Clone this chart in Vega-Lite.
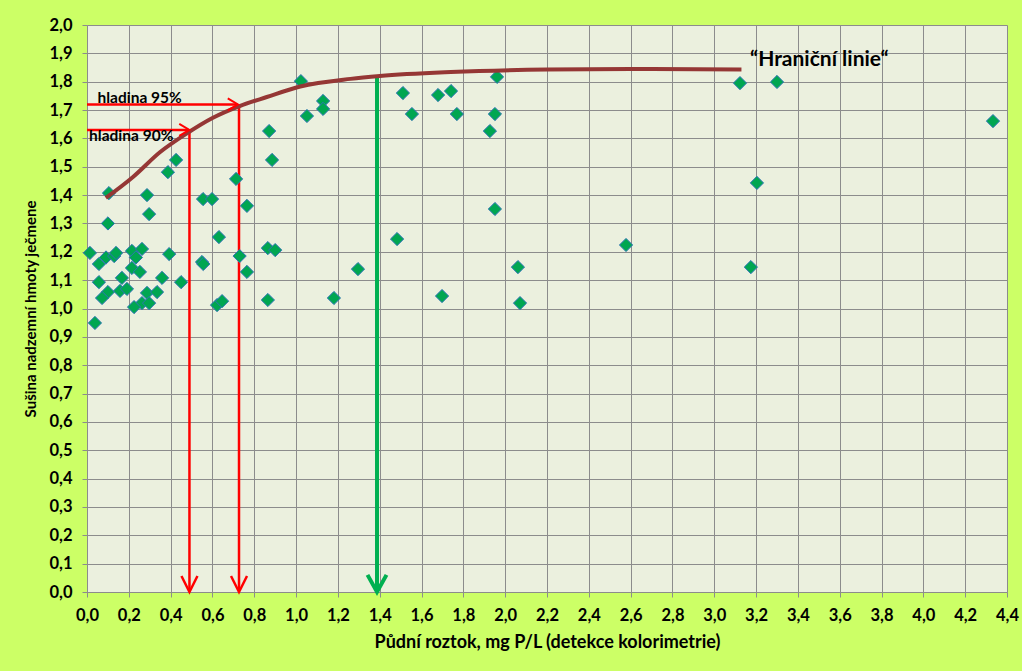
{
  "$schema": "https://vega.github.io/schema/vega-lite/v6.json",
  "width": 920,
  "height": 567,
  "autosize": {"type": "none"},
  "padding": {"left": 87, "top": 25, "right": 15, "bottom": 79},
  "background": "#CCFF66",
  "config": {
    "font": "Lato",
    "locale": {"number": {"decimal": ",", "thousands": " ", "grouping": [3], "currency": ["", " Kč"]}},
    "view": {"fill": "#EBF0DE", "stroke": null},
    "axis": {
      "gridColor": "#8C8C8C", "gridWidth": 1, "gridOpacity": 1,
      "domainColor": "#8C8C8C", "tickColor": "#8C8C8C", "tickSize": 5,
      "labelFont": "Lato", "labelFontWeight": "bold", "labelFontSize": 16.5, "labelColor": "#000000",
      "labelOverlap": false,
      "titleFont": "Lato", "titleFontWeight": "bold", "titleFontSize": 15, "titleColor": "#000000"
    }
  },
  "datasets": {
    "pts": [
      {"x": 0.014, "y": 1.196}, {"x": 0.057, "y": 1.157}, {"x": 0.091, "y": 1.18}, {"x": 0.13, "y": 1.185},
      {"x": 0.139, "y": 1.196}, {"x": 0.215, "y": 1.203}, {"x": 0.263, "y": 1.21}, {"x": 0.234, "y": 1.18},
      {"x": 0.393, "y": 1.192}, {"x": 0.631, "y": 1.252}, {"x": 0.55, "y": 1.164}, {"x": 0.556, "y": 1.157},
      {"x": 0.73, "y": 1.185}, {"x": 0.765, "y": 1.129}, {"x": 0.865, "y": 1.213}, {"x": 0.9, "y": 1.206},
      {"x": 0.057, "y": 1.093}, {"x": 0.167, "y": 1.108}, {"x": 0.215, "y": 1.143}, {"x": 0.253, "y": 1.129},
      {"x": 0.359, "y": 1.108}, {"x": 0.45, "y": 1.093}, {"x": 0.1, "y": 1.058}, {"x": 0.072, "y": 1.037},
      {"x": 0.158, "y": 1.062}, {"x": 0.191, "y": 1.069}, {"x": 0.287, "y": 1.055}, {"x": 0.335, "y": 1.058},
      {"x": 0.263, "y": 1.019}, {"x": 0.297, "y": 1.019}, {"x": 0.225, "y": 1.005}, {"x": 0.038, "y": 0.949},
      {"x": 0.622, "y": 1.012}, {"x": 0.646, "y": 1.026}, {"x": 0.865, "y": 1.03},
      {"x": 0.105, "y": 1.407}, {"x": 0.1, "y": 1.3}, {"x": 0.287, "y": 1.4}, {"x": 0.297, "y": 1.333},
      {"x": 0.387, "y": 1.481}, {"x": 0.426, "y": 1.524}, {"x": 0.555, "y": 1.386}, {"x": 0.598, "y": 1.386},
      {"x": 0.713, "y": 1.457}, {"x": 0.765, "y": 1.362}, {"x": 0.871, "y": 1.626}, {"x": 0.885, "y": 1.524},
      {"x": 1.023, "y": 1.802}, {"x": 1.052, "y": 1.679}, {"x": 1.129, "y": 1.732}, {"x": 1.129, "y": 1.704},
      {"x": 1.511, "y": 1.76}, {"x": 1.554, "y": 1.686}, {"x": 1.679, "y": 1.753}, {"x": 1.741, "y": 1.767},
      {"x": 1.769, "y": 1.686}, {"x": 1.961, "y": 1.817}, {"x": 1.951, "y": 1.686}, {"x": 1.927, "y": 1.626},
      {"x": 1.951, "y": 1.351}, {"x": 1.483, "y": 1.245}, {"x": 1.296, "y": 1.139}, {"x": 2.061, "y": 1.146},
      {"x": 1.181, "y": 1.037}, {"x": 1.698, "y": 1.044}, {"x": 2.071, "y": 1.019}, {"x": 3.123, "y": 1.795},
      {"x": 3.3, "y": 1.799}, {"x": 3.204, "y": 1.443}, {"x": 3.175, "y": 1.146}, {"x": 2.578, "y": 1.224},
      {"x": 4.333, "y": 1.661}
    ],
    "curve": [
      {"x": 0.09, "y": 1.39}, {"x": 0.22, "y": 1.464}, {"x": 0.35, "y": 1.552}, {"x": 0.48, "y": 1.619},
      {"x": 0.6, "y": 1.672}, {"x": 0.73, "y": 1.714}, {"x": 0.86, "y": 1.746}, {"x": 1.02, "y": 1.783},
      {"x": 1.26, "y": 1.81}, {"x": 1.4, "y": 1.82}, {"x": 1.74, "y": 1.834}, {"x": 2.2, "y": 1.843},
      {"x": 2.6, "y": 1.845}, {"x": 3.13, "y": 1.843}
    ],
    "redLines": [
      {"x": 0, "x2": 0.72, "y": 1.72, "y2": 1.72},
      {"x": 0.727, "x2": 0.727, "y": 1.72, "y2": 0.005},
      {"x": 0, "x2": 0.485, "y": 1.63, "y2": 1.63},
      {"x": 0.49, "x2": 0.49, "y": 1.63, "y2": 0.005}
    ],
    "greenLines": [
      {"x": 1.387, "x2": 1.387, "y": 1.82, "y2": 0.01}
    ],
    "redDown": [{"x": 0.49, "y": 0.0}, {"x": 0.727, "y": 0.0}],
    "redRight": [{"x": 0.722, "y": 1.72}, {"x": 0.49, "y": 1.63}],
    "greenDown": [{"x": 1.387, "y": 0.0}],
    "labels": [
      {"x": 0.05, "y": 1.742, "t": "hladina 95%"},
      {"x": 0.01, "y": 1.608, "t": "hladina 90%"}
    ],
    "title": [{"x": 3.171, "y": 1.877, "t": "“Hraniční linie“"}]
  },
  "encoding": {
    "x": {"field": "x", "type": "quantitative", "scale": {"domain": [0, 4.4], "nice": false},
      "axis": {"values": [0, 0.2, 0.4, 0.6, 0.8, 1.0, 1.2, 1.4, 1.6, 1.8, 2.0, 2.2, 2.4, 2.6, 2.8, 3.0, 3.2, 3.4, 3.6, 3.8, 4.0, 4.2, 4.4],
        "format": ".1f", "title": "Půdní roztok, mg P/L (detekce kolorimetrie)", "titleFontSize": 18, "labelPadding": 10, "titlePadding": 10, "labelFlush": false, "labelOverlap": false}},
    "y": {"field": "y", "type": "quantitative", "scale": {"domain": [0, 2], "nice": false},
      "axis": {"values": [0, 0.1, 0.2, 0.3, 0.4, 0.5, 0.6, 0.7, 0.8, 0.9, 1.0, 1.1, 1.2, 1.3, 1.4, 1.5, 1.6, 1.7, 1.8, 1.9, 2.0],
        "format": ".1f", "title": "Sušina nadzemní hmoty ječmene", "labelPadding": 10, "titlePadding": 10, "labelFlush": false, "labelOverlap": false}}
  },
  "layer": [
    {
      "data": {"name": "redLines"},
      "mark": {"type": "rule", "color": "#FF0000", "strokeWidth": 2.5},
      "encoding": {
        "x2": {"field": "x2"},
        "y2": {"field": "y2"}
      }
    },
    {
      "data": {"name": "greenLines"},
      "mark": {"type": "rule", "color": "#00B050", "strokeWidth": 4},
      "encoding": {
        "x2": {"field": "x2"},
        "y2": {"field": "y2"}
      }
    },
    {
      "data": {"name": "pts"},
      "mark": {"type": "point", "shape": "diamond", "filled": true, "size": 175, "fill": "#00A651", "stroke": "#2E75B6", "strokeWidth": 1, "opacity": 1, "fillOpacity": 1},
      "encoding": {}
    },
    {
      "data": {"name": "curve"},
      "mark": {"type": "line", "color": "#953735", "strokeWidth": 4, "interpolate": "monotone"},
      "encoding": {}
    },
    {
      "data": {"name": "redDown"},
      "mark": {"type": "point", "shape": "M-1,-2L0,0L1,-2", "size": 256, "filled": false, "stroke": "#FF0000", "strokeWidth": 2.5, "opacity": 1},
      "encoding": {}
    },
    {
      "data": {"name": "redRight"},
      "mark": {"type": "point", "shape": "M-1.7,-1L0,0L-1.7,1", "size": 144, "filled": false, "stroke": "#FF0000", "strokeWidth": 2, "opacity": 1},
      "encoding": {}
    },
    {
      "data": {"name": "greenDown"},
      "mark": {"type": "point", "shape": "M-1,-1.8L0,0L1,-1.8", "size": 361, "filled": false, "stroke": "#00B050", "strokeWidth": 4, "opacity": 1},
      "encoding": {}
    },
    {
      "data": {"name": "labels"},
      "mark": {"type": "text", "align": "left", "baseline": "middle", "fontWeight": "bold", "fontSize": 15.5, "font": "Lato", "color": "#000000"},
      "encoding": {"text": {"field": "t"}}
    },
    {
      "data": {"name": "title"},
      "mark": {"type": "text", "align": "left", "baseline": "middle", "fontWeight": "bold", "fontSize": 21, "font": "Lato", "color": "#000000"},
      "encoding": {"text": {"field": "t"}}
    }
  ]
}
